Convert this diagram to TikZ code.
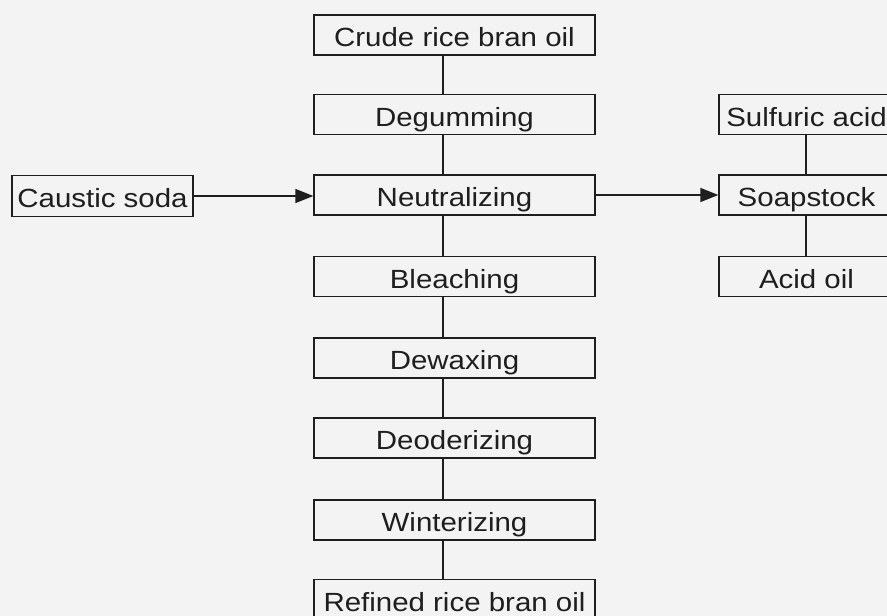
\documentclass[tikz,border=0pt]{standalone}
\usepackage{fontspec}
\setmainfont{Liberation Sans}[FakeStretch=1.12]
\usetikzlibrary{arrows.meta}
\definecolor{paper}{RGB}{243,243,243}
\definecolor{ink}{RGB}{30,30,30}
\begin{document}
\begin{tikzpicture}[x=1pt,y=-1pt,
  procbox/.style={draw=ink, line width=1.3pt, minimum width=281pt, minimum height=40pt, inner sep=0pt, text=ink, text height=23.6pt, text depth=0pt, font=\fontsize{26.3}{30}\selectfont},
  sidebox/.style={procbox, minimum width=175pt},
  conn/.style={draw=ink, line width=1.3pt},
  flow/.style={conn, -{Triangle[length=18pt,width=14pt]}}]
\fill[paper] (0,0) rectangle (887,616);
\useasboundingbox (0,0) rectangle (887,616);
\clip (0,0) rectangle (887,616);
\coordinate (spine) at (443,0);
\coordinate (rspine) at (806,0);
\node[procbox] (crude) at (454.5,35) {Crude rice bran oil};
\node[procbox] (degum) at (454.5,114.5) {Degumming};
\node[procbox] (neut) at (454.5,195) {Neutralizing};
\node[procbox] (bleach) at (454.5,276.5) {Bleaching};
\node[procbox] (dewax) at (454.5,358) {Dewaxing};
\node[procbox] (deodor) at (454.5,438) {Deoderizing};
\node[procbox] (winter) at (454.5,520) {Winterizing};
\node[procbox] (refined) at (454.5,599.5) {Refined rice bran oil};
\node[sidebox, minimum width=181pt, minimum height=41pt] (caustic) at (102.5,196) {Caustic soda};
\node[sidebox] (sulf) at (806.5,114.5) {Sulfuric acid};
\node[sidebox] (soap) at (806.5,195) {Soapstock};
\node[sidebox] (acid) at (806.5,276.5) {Acid oil};
\foreach \a/\b in {crude/degum, degum/neut, neut/bleach, bleach/dewax, dewax/deodor, deodor/winter, winter/refined}
  \draw[conn] (\a.south -| spine) -- (\b.north -| spine);
\draw[conn] (sulf.south -| rspine) -- (soap.north -| rspine);
\draw[conn] (soap.south -| rspine) -- (acid.north -| rspine);
\draw[flow] (caustic.east) -- (caustic.east -| neut.west);
\draw[flow] (neut.east) -- (soap.west);
\end{tikzpicture}
\end{document}
